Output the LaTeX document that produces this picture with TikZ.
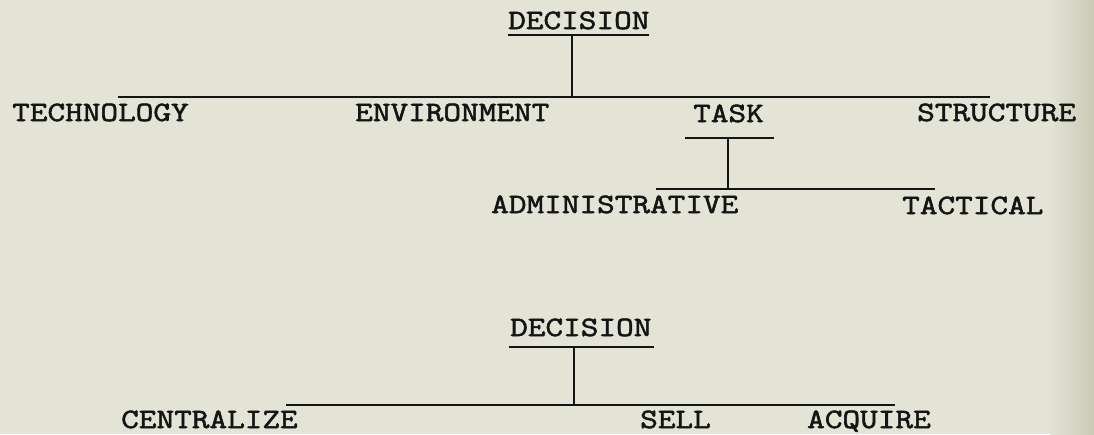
\documentclass[tikz,border=0pt]{standalone}
\usepackage{fontspec}
\newfontfamily\typewriter[FakeStretch=1.224,FakeBold=2]{Latin Modern Mono}
\definecolor{paper}{HTML}{E3E3D6}
\definecolor{paperedge}{HTML}{C9CAB6}
\definecolor{ink}{HTML}{141414}
\begin{document}
\begin{tikzpicture}[x=1pt,y=-1pt,
  label/.style={inner sep=0pt,anchor=base west,text=ink,font=\typewriter\fontsize{28}{28}\selectfont},
  bar/.style={draw=ink,line width=2.8pt},
  stem/.style={draw=ink,line width=2.1pt}]
  % paper
  \fill[paper] (0,0) rectangle (1094,434);
  \shade[left color=paper,right color=paperedge] (1050,0) rectangle (1094,434);
  \useasboundingbox (0,0) rectangle (1094,434);

  % first tree: labels
  \node[label] (dec1) at (508,29) {DECISION};
  \node[label] (tech) at (12,121) {TECHNOLOGY};
  \node[label] (env)  at (355,121) {ENVIRONMENT};
  \node[label] (task) at (693,122) {TASK};
  \node[label] (struc) at (917,121) {STRUCTURE};
  \node[label] (admin) at (491,213) {ADMINISTRATIVE};
  \node[label] (tact) at (902,214) {TACTICAL};

  % first tree: junction points
  \coordinate (d1l) at (508,35);
  \coordinate (d1r) at (649,35);
  \coordinate (d1s) at (572,35);
  \coordinate (r1l) at (118,97);
  \coordinate (r1r) at (990,97);
  \coordinate (r1s) at (572,97);
  \coordinate (tkl) at (685,138);
  \coordinate (tkr) at (774,138);
  \coordinate (tks) at (728,138);
  \coordinate (r2l) at (656,189);
  \coordinate (r2r) at (935,189);
  \coordinate (r2s) at (728,189);

  \draw[bar] (d1l) -- (d1r);
  \draw[stem] (d1s) -- (r1s);
  \draw[bar] (r1l) -- (r1r);
  \draw[bar] (tkl) -- (tkr);
  \draw[stem] (tks) -- (r2s);
  \draw[bar] (r2l) -- (r2r);

  % second tree: labels
  \node[label] (dec2) at (510,336) {DECISION};
  \node[label] (cent) at (121,428) {CENTRALIZE};
  \node[label] (sell) at (640,428) {SELL};
  \node[label] (acq)  at (807,428) {ACQUIRE};

  % second tree: junction points
  \coordinate (d2l) at (509,347);
  \coordinate (d2r) at (654,347);
  \coordinate (d2s) at (574,347);
  \coordinate (r3l) at (286,405);
  \coordinate (r3r) at (895,405);
  \coordinate (r3s) at (574,405);

  \draw[bar] (d2l) -- (d2r);
  \draw[stem] (d2s) -- (r3s);
  \draw[bar] (r3l) -- (r3r);
\end{tikzpicture}
\end{document}
